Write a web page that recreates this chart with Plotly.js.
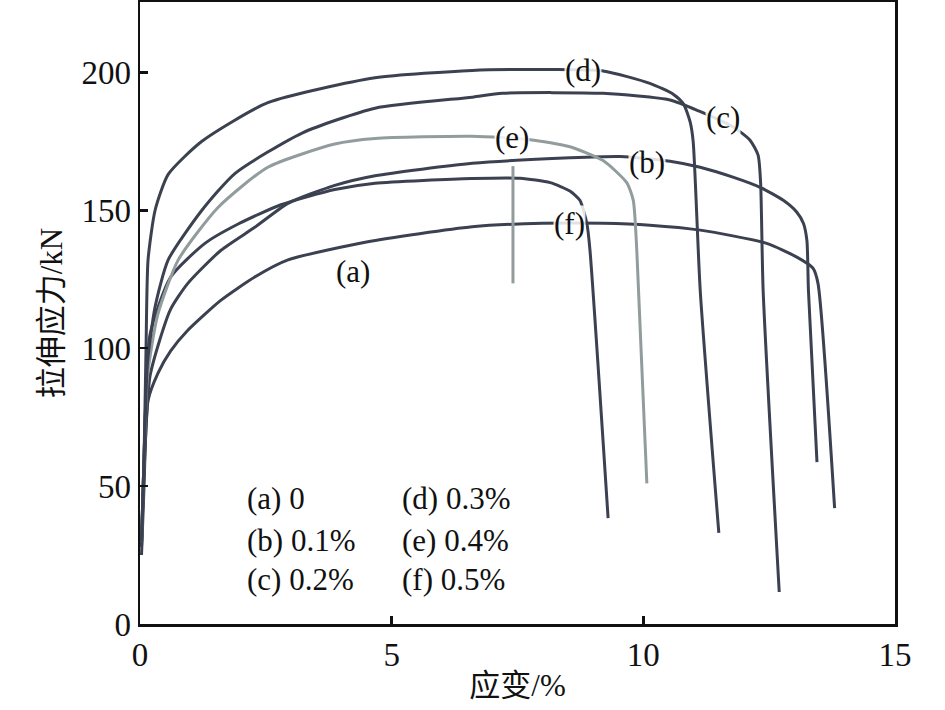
<!DOCTYPE html>
<html>
<head>
<meta charset="utf-8">
<script src="https://cdn.plot.ly/plotly-3.0.1.min.js"></script>
<style>
  html, body { margin: 0; padding: 0; background: #fff; }
  #chart { width: 945px; height: 710px; }
</style>
</head>
<body>
<div id="chart"></div>
<script>
// strain (%) / tensile force (kN)
const dX = [0.03, 0.08, 0.12, 0.16, 0.3, 0.56, 1.23, 2.54, 4.67, 6.6, 8.15, 9.2, 10.13, 10.6, 10.8, 10.93, 10.99, 11.13, 11.5];
const dY = [30, 60, 100, 132, 150, 163, 175, 189, 198, 200.7, 201, 200.5, 196, 192, 188.5, 182, 175, 121, 33];

const cX = [0.03, 0.08, 0.15, 0.3, 0.56, 1.23, 1.89, 3.22, 4.67, 6.6, 7.2, 9.2, 10.53, 11.1, 11.8, 12.12, 12.28, 12.33, 12.38, 12.7];
const cY = [30, 60, 95, 115, 132, 150, 163.4, 178, 187, 191, 192.4, 192.4, 190, 186, 180, 175.4, 170, 160, 121, 11.6];

const eX = [0.03, 0.08, 0.15, 0.35, 0.76, 1.55, 2.54, 3.87, 4.67, 6.6, 7.75, 8.54, 9.2, 9.67, 9.8, 9.87, 10.07, null, 7.41, 7.41];
const eY = [30, 60, 90, 112, 132, 151, 165.6, 174, 176, 176.8, 175.6, 173, 168, 160, 153.6, 135.5, 51, null, 166, 123.5];

const bX = [0.03, 0.08, 0.2, 0.6, 0.95, 1.61, 2.28, 2.94, 3.87, 4.67, 6.6, 8.54, 9.54, 10.53, 11.13, 11.78, 12.32, 12.78, 13.05, 13.18, 13.25, 13.28, 13.45];
const bY = [28, 55, 90, 113.8, 123.5, 135.5, 143.8, 152.5, 159, 162.5, 167, 169, 169.5, 167.8, 165.6, 162, 158.3, 153.6, 149.3, 145.3, 139, 121, 58.7];

const aX = [0.03, 0.08, 0.2, 0.61, 1.29, 1.95, 2.8, 3.87, 4.67, 6.6, 7.55, 8.15, 8.54, 8.74, 8.88, 8.94, 9.3];
const aY = [28, 60, 105, 125.8, 138, 145, 152, 157.5, 159.8, 161.5, 161.6, 160, 157, 153.6, 145, 135.5, 38.4];

const fX = [0.03, 0.08, 0.16, 0.36, 0.61, 0.95, 1.61, 2.28, 2.94, 4.5, 6.6, 8.0, 9.2, 10.13, 11.13, 12.45, 13.05, 13.37, 13.47, 13.8];
const fY = [25, 50, 81, 91, 99, 106.5, 117.4, 125.8, 132, 138.5, 144, 145.3, 145.3, 144.6, 142.8, 138, 133, 129, 123.5, 42];

const curveLabels = ['(d)', '(c)', '(e)', '(b)', '(f)', '(a)'];
const labelX = [8.8, 11.58, 7.39, 10.07, 8.54, 4.23];
const labelY = [200.7, 183.7, 176.4, 167.4, 145.3, 127.9];

const legendLines = ['(a) 0', '(b) 0.1%', '(c) 0.2%', '(d) 0.3%', '(e) 0.4%', '(f) 0.5%'];

const dark = '#3b4150';
const light = '#929c9c';
const serif = '"Liberation Serif", "Times New Roman", "Noto Sans CJK SC", serif';

function curve(x, y, color) {
    return {
        x: x, y: y, type: 'scatter', mode: 'lines',
        line: { color: color, width: 3, shape: 'spline', smoothing: 0.6 },
        connectgaps: false, hoverinfo: 'skip', showlegend: false
    };
}

const traces = [
    curve(fX, fY, dark),
    curve(aX, aY, dark),
    curve(bX, bY, dark),
    curve(eX, eY, light),
    curve(cX, cY, dark),
    curve(dX, dY, dark)
];

const annotations = curveLabels.map((t, i) => ({
    x: labelX[i], y: labelY[i], xref: 'x', yref: 'y', text: t, showarrow: false,
    font: { family: serif, size: 31, color: '#111' }, bgcolor: 'rgba(255,255,255,0.85)', borderpad: 0
}));

const legX = [2.09, 5.17];
const legY = [45.6, 30.4, 16];
legendLines.forEach((t, i) => {
    annotations.push({
        x: legX[Math.floor(i / 3)], y: legY[i % 3], xref: 'x', yref: 'y', text: t,
        showarrow: false, xanchor: 'left', font: { family: serif, size: 31, color: '#111' }
    });
});

const layout = {
    width: 945, height: 710,
    margin: { l: 140, r: 50, t: 2, b: 86 },
    paper_bgcolor: '#fff', plot_bgcolor: '#fff',
    font: { family: serif, color: '#111' },
    xaxis: {
        range: [0, 15], tickvals: [0, 5, 10, 15], showgrid: false, zeroline: false,
        showline: true, linecolor: '#111', linewidth: 2.5, mirror: true,
        ticks: 'inside', ticklen: 8, tickwidth: 2.5, tickcolor: '#111',
        tickfont: { family: serif, size: 33, color: '#111' },
        title: { text: '应变/%', font: { family: serif, size: 31, color: '#111' }, standoff: 2 }
    },
    yaxis: {
        range: [0, 225.5], tickvals: [0, 50, 100, 150, 200], showgrid: false, zeroline: false,
        showline: true, linecolor: '#111', linewidth: 2.5, mirror: true,
        ticks: 'inside', ticklen: 8, tickwidth: 2.5, tickcolor: '#111',
        tickfont: { family: serif, size: 33, color: '#111' },
        title: { text: '拉伸应力/kN', font: { family: serif, size: 31, color: '#111' }, standoff: 10 }
    },
    annotations: annotations
};

Plotly.newPlot('chart', traces, layout, { displayModeBar: false, staticPlot: true });
</script>
</body>
</html>
